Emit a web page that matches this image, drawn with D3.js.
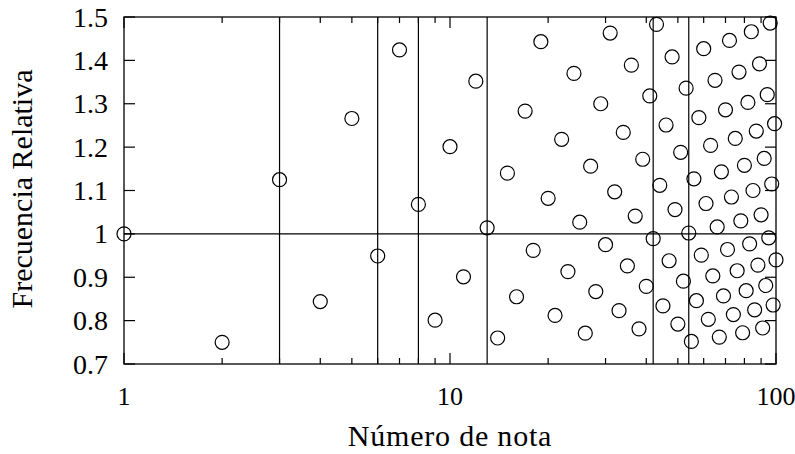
<!DOCTYPE html>
<html>
<head>
<meta charset="utf-8">
<script src="https://cdn.jsdelivr.net/npm/d3@7"></script>
<style>
  body { margin: 0; background: #fff; }
  svg { display: block; }
  text { font-family: "Liberation Serif", "DejaVu Serif", serif; fill: #000; }
  .frame { fill: none; stroke: #000; stroke-width: 1.3; }
  .rule { stroke: #000; stroke-width: 1.2; }
  .pt { fill: none; stroke: #000; stroke-width: 1.2; }
</style>
</head>
<body>
<svg width="795" height="454"></svg>
<script>
// relative frequency of each note (note number = position + 1)
const freqs = [
  1.000, 0.750, 1.125, 0.844, 1.266, 0.949, 1.424, 1.068, 0.801, 1.201,
  0.901, 1.352, 1.014, 0.760, 1.140, 0.855, 1.283, 0.962, 1.443, 1.082,
  0.812, 1.218, 0.913, 1.370, 1.027, 0.771, 1.156, 0.867, 1.300, 0.975,
  1.463, 1.097, 0.823, 1.234, 0.926, 1.389, 1.041, 0.781, 1.172, 0.879,
  1.318, 0.989, 1.483, 1.112, 0.834, 1.251, 0.938, 1.408, 1.056, 0.792,
  1.188, 0.891, 1.336, 1.002, 0.752, 1.127, 0.846, 1.268, 0.951, 1.427,
  1.070, 0.803, 1.204, 0.903, 1.354, 1.016, 0.762, 1.143, 0.857, 1.286,
  0.964, 1.446, 1.085, 0.814, 1.220, 0.915, 1.373, 1.030, 0.772, 1.158,
  0.869, 1.303, 0.977, 1.466, 1.100, 0.825, 1.237, 0.928, 1.392, 1.044,
  0.783, 1.174, 0.881, 1.321, 0.991, 1.486, 1.115, 0.836, 1.254, 0.940
];
const markNotes = [3, 6, 8, 13, 42, 54];
const refLevel = [1];
const xTicks = [1, 10, 100];
const yTicks = [0.7, 0.8, 0.9, 1.0, 1.1, 1.2, 1.3, 1.4, 1.5];

const svg = d3.select("svg");
const margin = {top: 17, right: 19, bottom: 90, left: 124};
const W = 795, H = 454;
const x = d3.scaleLog().domain([1, 100]).range([margin.left, W - margin.right]);
const y = d3.scaleLinear().domain([0.7, 1.5]).range([H - margin.bottom, margin.top]);
const x0 = x.range()[0], x1 = x.range()[1], y0 = y.range()[0], y1 = y.range()[1];

// minor ticks on log axis
const minor = x.ticks().filter(v => !xTicks.includes(v));

const g = svg.append("g");

// ref lines
g.selectAll(".vline").data(markNotes).join("line")
  .attr("class", "rule")
  .attr("x1", d => x(d)).attr("x2", d => x(d))
  .attr("y1", y0).attr("y2", y1);
g.selectAll(".hline").data(refLevel).join("line")
  .attr("class", "rule")
  .attr("x1", x0).attr("x2", x1)
  .attr("y1", d => y(d)).attr("y2", d => y(d));

// ticks (inward, mirrored)
const tk = g.append("g").attr("stroke", "#000").attr("stroke-width", 1.2);
[[y0, -1], [y1, 1]].forEach(([yy, dir]) => {
  tk.selectAll(null).data(minor).join("line")
    .attr("x1", d => x(d)).attr("x2", d => x(d))
    .attr("y1", yy).attr("y2", yy + dir * 6);
  tk.selectAll(null).data(xTicks).join("line")
    .attr("x1", d => x(d)).attr("x2", d => x(d))
    .attr("y1", yy).attr("y2", yy + dir * 11);
});
[[x0, 1], [x1, -1]].forEach(([xx, dir]) => {
  tk.selectAll(null).data(yTicks).join("line")
    .attr("y1", d => y(d)).attr("y2", d => y(d))
    .attr("x1", xx).attr("x2", xx + dir * 11);
});

g.append("rect").attr("class", "frame")
  .attr("x", x0).attr("y", y1).attr("width", x1 - x0).attr("height", y0 - y1);

// points
g.selectAll(".pt").data(freqs).join("circle")
  .attr("class", "pt")
  .attr("cx", (d, i) => x(i + 1))
  .attr("cy", d => y(d))
  .attr("r", 7);

// tick labels
g.selectAll(".xl").data(xTicks).join("text")
  .attr("x", d => x(d)).attr("y", 405)
  .attr("text-anchor", "middle").attr("font-size", 26)
  .text(d => d);
g.selectAll(".yl").data(yTicks).join("text")
  .attr("x", 108).attr("y", d => y(d)).attr("dy", "0.34em")
  .attr("text-anchor", "end").attr("font-size", 28)
  .text(d => d === 1 ? "1" : d3.format(".1f")(d));

svg.append("text")
  .attr("x", (x0 + x1) / 2).attr("y", 446)
  .attr("text-anchor", "middle").attr("font-size", 30)
  .attr("letter-spacing", 0.8)
  .text("Número de nota");
svg.append("text")
  .attr("transform", `translate(32,189) rotate(-90)`)
  .attr("text-anchor", "middle").attr("font-size", 30)
  .text("Frecuencia Relativa");
</script>
</body>
</html>
